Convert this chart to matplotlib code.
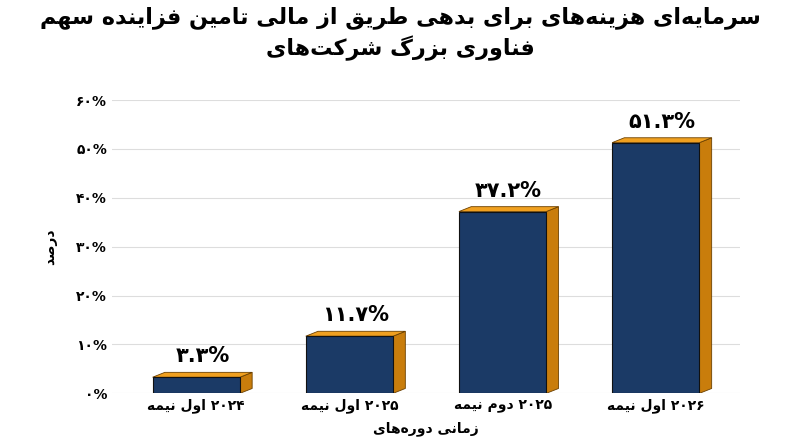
import matplotlib.pyplot as plt
from matplotlib.patches import Polygon

plt.rcParams['font.family'] = ['DejaVu Sans']

categories = ["نیمه اول ۲۰۲۴", "نیمه اول ۲۰۲۵", "نیمه دوم ۲۰۲۵", "نیمه اول ۲۰۲۶"]
values = [3.3, 11.7, 37.2, 51.3]
value_labels = ["۳.۳%", "۱۱.۷%", "۳۷.۲%", "۵۱.۳%"]
yticks = [0, 10, 20, 30, 40, 50, 60]
ytick_labels = ["۰%", "۱۰%", "۲۰%", "۳۰%", "۴۰%", "۵۰%", "۶۰%"]
title = "سهم فزاینده تامین مالی از طریق بدهی برای هزینه\u200cهای سرمایه\u200cای\nشرکت\u200cهای بزرگ فناوری"
xlabel = "دوره\u200cهای زمانی"
ylabel = "درصد"

# minimal Arabic/Persian shaping: (isolated, final, initial, medial)
FORMS = {
    'ا': (0xFE8D, 0xFE8E, None, None), 'آ': (0xFE81, 0xFE82, None, None),
    'ب': (0xFE8F, 0xFE90, 0xFE91, 0xFE92), 'پ': (0xFB56, 0xFB57, 0xFB58, 0xFB59),
    'ت': (0xFE95, 0xFE96, 0xFE97, 0xFE98), 'ج': (0xFE9D, 0xFE9E, 0xFE9F, 0xFEA0),
    'چ': (0xFB7A, 0xFB7B, 0xFB7C, 0xFB7D), 'ح': (0xFEA1, 0xFEA2, 0xFEA3, 0xFEA4),
    'خ': (0xFEA5, 0xFEA6, 0xFEA7, 0xFEA8), 'د': (0xFEA9, 0xFEAA, None, None),
    'ذ': (0xFEAB, 0xFEAC, None, None), 'ر': (0xFEAD, 0xFEAE, None, None),
    'ز': (0xFEAF, 0xFEB0, None, None), 'ژ': (0xFB8A, 0xFB8B, None, None),
    'س': (0xFEB1, 0xFEB2, 0xFEB3, 0xFEB4), 'ش': (0xFEB5, 0xFEB6, 0xFEB7, 0xFEB8),
    'ص': (0xFEB9, 0xFEBA, 0xFEBB, 0xFEBC),
    'ط': (0xFEC1, 0xFEC2, 0xFEC3, 0xFEC4), 'ف': (0xFED1, 0xFED2, 0xFED3, 0xFED4),
    'ق': (0xFED5, 0xFED6, 0xFED7, 0xFED8), 'ک': (0xFB8E, 0xFB8F, 0xFB90, 0xFB91),
    'گ': (0xFB92, 0xFB93, 0xFB94, 0xFB95), 'ل': (0xFEDD, 0xFEDE, 0xFEDF, 0xFEE0),
    'م': (0xFEE1, 0xFEE2, 0xFEE3, 0xFEE4), 'ن': (0xFEE5, 0xFEE6, 0xFEE7, 0xFEE8),
    'و': (0xFEED, 0xFEEE, None, None), 'ه': (0xFEE9, 0xFEEA, 0xFEEB, 0xFEEC),
    'ی': (0xFBFC, 0xFBFD, 0xFBFE, 0xFBFF),
}


def shape_word(s):
    out = []
    for i, c in enumerate(s):
        if c not in FORMS:
            if c != '\u200c':
                out.append(c)
            continue
        prev = s[i - 1] if i > 0 else ''
        nxt = s[i + 1] if i + 1 < len(s) else ''
        jp = prev in FORMS and FORMS[prev][2] is not None
        jn = nxt in FORMS and FORMS[c][2] is not None
        f = FORMS[c]
        code = f[3] if (jp and jn) else f[1] if jp else f[2] if jn else f[0]
        out.append(chr(code))
    text = ''.join(out)
    if any(ch in FORMS for ch in s):
        text = text[::-1]
    return text


def fa(s):
    # the reference keeps words in left-to-right order, each word shaped
    return '\n'.join(' '.join(shape_word(w) for w in line.split(' '))
                     for line in s.split('\n'))


front = "#1b3a66"
side = "#c97d0c"
top = "#f0a020"
width = 0.57
dx, dy = 0.08, 1.0

fig = plt.figure(figsize=(8, 4.47), dpi=100)
ax = fig.add_axes([0.14, 0.12, 0.785, 0.656])
xs = list(range(len(values)))
ax.bar(xs, values, width=width, color=front, edgecolor="#111111", linewidth=0.8, zorder=3)
for x, v, lab in zip(xs, values, value_labels):
    r = x + width / 2
    l = x - width / 2
    ax.add_patch(Polygon([(r, 0), (r + dx, dy), (r + dx, v + dy), (r, v)],
                         closed=True, facecolor=side, edgecolor="#6b4000", linewidth=0.6, zorder=2))
    ax.add_patch(Polygon([(l, v), (l + dx, v + dy), (r + dx, v + dy), (r, v)],
                         closed=True, facecolor=top, edgecolor="#6b4000", linewidth=0.6, zorder=2))
    ax.text(x + dx / 2, v + dy + 1.2, lab, ha='center', va='bottom',
            fontsize=15, fontweight='bold', zorder=4)

ax.set_xlim(-0.55, 3.55)
ax.set_ylim(0, 60)
ax.set_yticks(yticks)
ax.set_yticklabels(ytick_labels, fontsize=10, fontweight='bold')
ax.set_xticks(xs)
ax.set_xticklabels([fa(c) for c in categories], fontsize=10, fontweight='bold')
ax.tick_params(length=0)
ax.grid(axis='y', color="#dddddd", linewidth=0.8, zorder=0)
for sp in ax.spines.values():
    sp.set_visible(False)
ax.set_xlabel(fa(xlabel), fontsize=10, fontweight='bold', labelpad=6)
ax.set_ylabel(fa(ylabel), fontsize=10, fontweight='bold', labelpad=14)
fig.suptitle(fa(title), fontsize=16, fontweight='bold', y=0.985, linespacing=1.3)

fig.savefig("out.png", dpi=100)
